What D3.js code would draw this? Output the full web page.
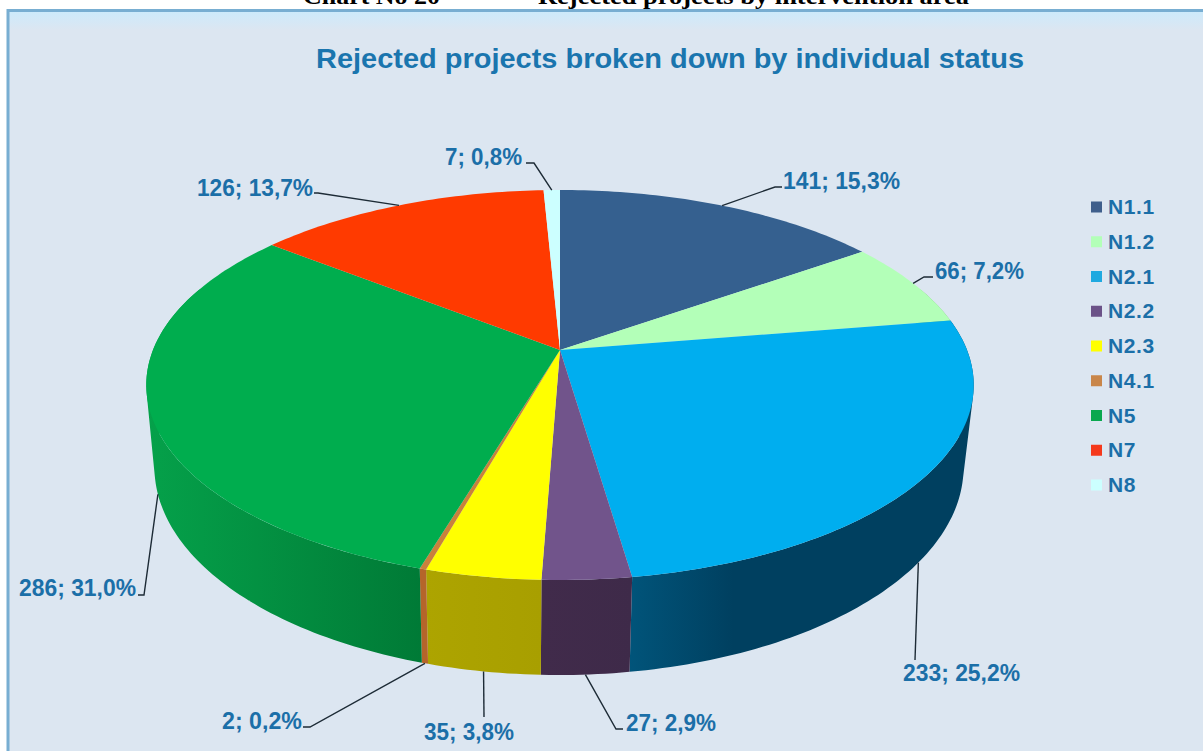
<!DOCTYPE html>
<html>
<head>
<meta charset="utf-8">
<script src="https://cdn.jsdelivr.net/npm/d3@7"></script>
<style>
  html, body { margin: 0; padding: 0; background: #fff; overflow: hidden; }
  svg { display: block; }
  text { font-family: "Liberation Sans", sans-serif; font-weight: bold; }
</style>
</head>
<body>
<script>
// chart data
const categories = ['N1.1', 'N1.2', 'N2.1', 'N2.2', 'N2.3', 'N4.1', 'N5', 'N7', 'N8'];
const counts = [141, 66, 233, 27, 35, 2, 286, 126, 7];
const shares = ['15,3', '7,2', '25,2', '2,9', '3,8', '0,2', '31,0', '13,7', '0,8'];

const topColors = ['#35608f', '#b3ffb8', '#00aeef', '#71548b', '#ffff00', '#c9813c', '#00ad4e', '#ff3a00', '#ccffff'];
const legendColors = ['#3f5f8c', '#b3ffb8', '#1fa9e0', '#6b5288', '#ffff00', '#c9864a', '#0aa84f', '#f5391c', '#ccffff'];
const wallColors = [
  ['#20405f', '#20405f'], ['#80c080', '#80c080'], ['#01547a', '#004060'],
  ['#412b4b', '#3e2a49'], ['#ada400', '#a89f00'], ['#b5652a', '#b5652a'],
  ['#05a14a', '#007a36'], ['#b02800', '#b02800'], ['#90c0c0', '#90c0c0']
];

const width = 1203;
const height = 751;
const textBlue = '#1b6fa8';

// top and bottom rim of the disc, both seen in perspective
const tilt = 0.1795;
const topRim = {cx: 560, cy: 350, rx: 407, ry: 188.7};
const bottomRim = {cx: 559, cy: 429.7, rx: 398, ry: 201.3};

function project(rim, a){
  const w = 1 + tilt * Math.cos(a);
  return [rim.cx + rim.rx * Math.sin(a) / w, rim.cy - rim.ry * Math.cos(a) / w];
}

function arcAngles(a0, a1){
  const n = Math.max(2, Math.ceil((a1 - a0) / (Math.PI / 180)));
  return d3.range(n + 1).map(i => a0 + (a1 - a0) * i / n);
}

const svg = d3.select('body').append('svg')
  .attr('width', width)
  .attr('height', height);

const defs = svg.append('defs');

// heading of the page, cut off by the panel
svg.append('text')
  .attr('x', 303).attr('y', 4)
  .attr('font-size', 24)
  .attr('textLength', 137)
  .attr('lengthAdjust', 'spacingAndGlyphs')
  .style('font-family', '"Liberation Serif", serif')
  .text('Chart No 20');
svg.append('text')
  .attr('x', 538).attr('y', 4)
  .attr('font-size', 24)
  .attr('textLength', 431)
  .attr('lengthAdjust', 'spacingAndGlyphs')
  .style('font-family', '"Liberation Serif", serif')
  .text('Rejected projects by intervention area');

// panel
const panelGrad = defs.append('linearGradient')
  .attr('id', 'panelGrad')
  .attr('x1', 0).attr('x2', 0).attr('y1', 0).attr('y2', 1);
panelGrad.append('stop').attr('offset', 0).attr('stop-color', '#cdeafb');
panelGrad.append('stop').attr('offset', 1).attr('stop-color', '#dce6f1');

svg.append('rect')
  .attr('x', 7).attr('y', 9)
  .attr('width', width - 7).attr('height', height - 9)
  .attr('fill', '#dce6f1');
svg.append('rect')
  .attr('x', 9).attr('y', 12)
  .attr('width', width - 9).attr('height', 18)
  .attr('fill', 'url(#panelGrad)');
svg.append('path')
  .attr('d', `M8,${height}V10.5H${width}`)
  .attr('fill', 'none')
  .attr('stroke', '#78aed2')
  .attr('stroke-width', 3);

// title
svg.append('text')
  .attr('x', 316).attr('y', 68)
  .attr('font-size', 28)
  .attr('textLength', 708)
  .attr('lengthAdjust', 'spacingAndGlyphs')
  .attr('fill', '#1a75ae')
  .text('Rejected projects broken down by individual status');

// slices
const pie = d3.pie().sort(null).value(d => d);
const slices = pie(counts);

const line = d3.line();
const wallFrom = 70 * Math.PI / 180;
const wallTo = 290 * Math.PI / 180;

// side wall: many quads in one path, so no seams and the silhouette stays full
const walls = svg.append('g');
slices.forEach(function(s, i){
  const a0 = Math.max(s.startAngle, wallFrom);
  const a1 = Math.min(s.endAngle, wallTo);
  if(a1 <= a0) return;
  const angles = arcAngles(a0, a1);
  const xs = angles.map(a => project(topRim, a)[0]).concat(angles.map(a => project(bottomRim, a)[0]));
  const grad = defs.append('linearGradient')
    .attr('id', 'wall' + i)
    .attr('gradientUnits', 'userSpaceOnUse')
    .attr('x1', d3.min(xs)).attr('x2', d3.max(xs))
    .attr('y1', 0).attr('y2', 0);
  // the blue wall darkens early, then stays flat
  const mid = categories[i] === 'N2.1' ? 0.3 : 1;
  grad.append('stop').attr('offset', 0).attr('stop-color', wallColors[i][0]);
  grad.append('stop').attr('offset', mid).attr('stop-color', wallColors[i][1]);

  let d = '';
  d3.pairs(angles).forEach(function(p){
    const quad = [project(topRim, p[0]), project(topRim, p[1]), project(bottomRim, p[1]), project(bottomRim, p[0])];
    // same winding for all quads, otherwise overlaps at the silhouette cancel out
    if(d3.polygonArea(quad) < 0) quad.reverse();
    d += line(quad) + 'Z';
  });
  walls.append('path').attr('d', d).attr('fill', 'url(#wall' + i + ')');
});

// top surface
svg.append('g')
  .selectAll('path')
  .data(slices)
  .join('path')
  .attr('d', s => line([[topRim.cx, topRim.cy]].concat(arcAngles(s.startAngle, s.endAngle).map(a => project(topRim, a)))) + 'Z')
  .attr('fill', (s, i) => topColors[i]);

// leader lines: start on the rim at the slice middle, bend and end by the label
const leaderBends = [
  [[775, 187], [782, 187]],
  [[924, 277], [933, 277]],
  [[915, 660]],
  [[616, 729], [623, 729]],
  [[484, 717]],
  [[310, 727], [303, 727]],
  [[144, 595], [138, 595]],
  [[318, 193], [314, 193]],
  [[534, 163], [526, 163]]
];
const leaderOnWall = [false, false, true, true, true, true, true, false, false];

svg.append('g')
  .selectAll('path')
  .data(slices)
  .join('path')
  .attr('d', function(s, i){
    const mid = (s.startAngle + s.endAngle) / 2;
    const start = project(leaderOnWall[i] ? bottomRim : topRim, mid);
    return line([start].concat(leaderBends[i]));
  })
  .attr('fill', 'none')
  .attr('stroke', '#1d2b36')
  .attr('stroke-width', 1.4);

// labels, placed by hand like in the original
const labelBoxes = [
  [783, 189, 117], [935, 279, 89], [903, 681, 117], [626, 731, 90], [424, 740, 90],
  [222, 729, 80], [19, 596, 117], [197, 196, 116], [445, 165, 77]
];

svg.append('g')
  .selectAll('text')
  .data(categories)
  .join('text')
  .attr('x', (c, i) => labelBoxes[i][0])
  .attr('y', (c, i) => labelBoxes[i][1])
  .attr('textLength', (c, i) => labelBoxes[i][2])
  .attr('lengthAdjust', 'spacingAndGlyphs')
  .attr('font-size', 23)
  .attr('fill', textBlue)
  .text((c, i) => `${counts[i]}; ${shares[i]}%`);

// legend
const legendY = d3.scalePoint()
  .domain(categories)
  .range([207, 485]);

const legend = svg.append('g');
legend.selectAll('rect')
  .data(categories)
  .join('rect')
  .attr('x', 1091)
  .attr('y', c => legendY(c) - 5.5)
  .attr('width', 11)
  .attr('height', 11)
  .attr('fill', (c, i) => legendColors[i]);
legend.selectAll('text')
  .data(categories)
  .join('text')
  .attr('x', 1108)
  .attr('y', c => legendY(c) + 7)
  .attr('font-size', 21)
  .attr('letter-spacing', 0.6)
  .attr('fill', textBlue)
  .text(c => c);
</script>
</body>
</html>
